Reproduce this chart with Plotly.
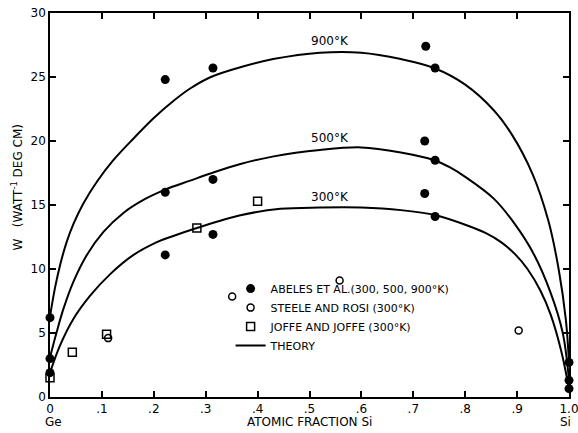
import plotly.graph_objects as go

# ---- data ----
abeles_x = [0, 0, 0, 0.222, 0.222, 0.222, 0.314, 0.314, 0.314,
            0.724, 0.722, 0.722, 0.742, 0.742, 0.742, 1.0, 1.0, 1.0]
abeles_w = [6.2, 3.0, 1.9, 24.8, 16.0, 11.1, 25.7, 17.0, 12.7,
            27.4, 20.0, 15.9, 25.7, 18.5, 14.1, 2.7, 1.3, 0.65]

steele_x = [0.112, 0.351, 0.558, 0.903]
steele_w = [4.6, 7.85, 9.1, 5.2]

joffe_x = [0.0, 0.043, 0.109, 0.283, 0.400]
joffe_w = [1.5, 3.5, 4.9, 13.2, 15.3]

t900_x = [0, 0.01, 0.02, 0.032, 0.045, 0.064, 0.09, 0.122, 0.161, 0.2, 0.24,
          0.27, 0.31, 0.37, 0.43, 0.52, 0.6, 0.676, 0.74, 0.80, 0.855, 0.89,
          0.93, 0.96, 0.98, 0.994, 1.0]
t900_w = [6.3, 8.6, 10.4, 12.1, 13.5, 15.1, 16.8, 18.5, 20.2, 21.8, 23.2,
          24.1, 25.0, 25.8, 26.4, 26.9, 26.9, 26.4, 25.7, 24.4, 22.4, 20.5,
          17.4, 13.8, 10.0, 6.0, 2.7]

t500_x = [0, 0.013, 0.026, 0.045, 0.071, 0.103, 0.142, 0.18, 0.222, 0.27,
          0.312, 0.367, 0.431, 0.52, 0.6, 0.676, 0.74, 0.77, 0.80, 0.855, 0.894,
          0.933, 0.965, 0.988, 1.0]
t500_w = [3.1, 5.1, 6.9, 9.0, 11.1, 12.9, 14.4, 15.4, 16.2, 16.9,
          17.5, 18.2, 18.8, 19.3, 19.5, 19.1, 18.5, 17.95, 17.2, 15.5, 13.6,
          11.1, 8.1, 5.0, 1.3]

t300_x = [0, 0.019, 0.045, 0.077, 0.116, 0.161, 0.206, 0.232, 0.283, 0.367,
          0.444, 0.52, 0.6, 0.676, 0.743, 0.804, 0.84, 0.869, 0.895, 0.92,
          0.945, 0.965, 0.985, 1.0]
t300_w = [1.9, 4.0, 6.1, 7.9, 9.6, 11.1, 12.1, 12.5, 13.2, 14.2,
          14.7, 14.8, 14.8, 14.6, 14.2, 13.4, 12.8, 12.1, 11.2, 10.0,
          8.3, 6.4, 3.6, 0.65]

curve_labels = ["900°K", "500°K", "300°K"]
curve_label_x = [0.54, 0.54, 0.54]
curve_label_w = [27.1, 19.5, 14.9]

x_tickvals = [0, 0.1, 0.2, 0.3, 0.4, 0.5, 0.6, 0.7, 0.8, 0.9, 1.0]
x_ticktext = ["0", ".1", ".2", ".3", ".4", ".5", ".6", ".7", ".8", ".9", "1.0"]
y_tickvals = [0, 5, 10, 15, 20, 25, 30]

FONT = "DejaVu Sans"

fig = go.Figure()

for xs, ws in [(t900_x, t900_w), (t500_x, t500_w), (t300_x, t300_w)]:
    fig.add_trace(go.Scatter(
        x=xs, y=ws, mode="lines",
        line=dict(color="black", width=2, shape="spline", smoothing=1.0),
        name="THEORY", showlegend=False, hoverinfo="skip", cliponaxis=False))

fig.add_trace(go.Scatter(
    x=abeles_x, y=abeles_w, mode="markers", name="ABELES ET AL.(300, 500, 900°K)",
    marker=dict(symbol="circle", size=9, color="black"), cliponaxis=False))
fig.add_trace(go.Scatter(
    x=steele_x, y=steele_w, mode="markers", name="STEELE AND ROSI (300°K)",
    marker=dict(symbol="circle-open", size=7, color="black", line=dict(width=1.5)), cliponaxis=False))
fig.add_trace(go.Scatter(
    x=joffe_x, y=joffe_w, mode="markers", name="JOFFE AND JOFFE (300°K)",
    marker=dict(symbol="square-open", size=8, color="black", line=dict(width=1.5)), cliponaxis=False))
fig.add_trace(go.Scatter(
    x=[None], y=[None], mode="lines", name="THEORY",
    line=dict(color="black", width=2)))

for t, lx, lw in zip(curve_labels, curve_label_x, curve_label_w):
    fig.add_annotation(x=lx, y=lw, text=t, showarrow=False, yanchor="bottom",
                       xanchor="center", font=dict(family=FONT, size=12, color="black"))

bottom_font = dict(family=FONT, size=12, color="black")
fig.add_annotation(x=0.5, y=-0.066, xref="paper", yref="paper", text="ATOMIC FRACTION Si",
                   xanchor="center", yanchor="middle", showarrow=False, font=bottom_font)
fig.add_annotation(x=0.007, y=-0.066, xref="paper", yref="paper", text="Ge",
                   xanchor="center", yanchor="middle", showarrow=False, font=bottom_font)
fig.add_annotation(x=0.993, y=-0.066, xref="paper", yref="paper", text="Si",
                   xanchor="center", yanchor="middle", showarrow=False, font=bottom_font)
fig.add_annotation(x=-0.064, y=0.545, xref="paper", yref="paper",
                   text="W   (WATT<sup>-1</sup> DEG CM)", textangle=-90,
                   xanchor="center", yanchor="middle",
                   showarrow=False, font=dict(family=FONT, size=12, color="black"))

axis_common = dict(showline=True, linecolor="black", linewidth=1.5, mirror="allticks",
                   ticks="inside", ticklen=6, tickwidth=1.5, tickcolor="black",
                   showgrid=False, zeroline=False, automargin=False,
                   ticklabeloverflow="allow",
                   tickfont=dict(family=FONT, size=12, color="black"))

fig.update_layout(
    width=578, height=433,
    margin=dict(l=50, r=9, t=13, b=36, autoexpand=False),
    paper_bgcolor="white", plot_bgcolor="white",
    xaxis=dict(range=[0, 1], tickvals=x_tickvals, ticktext=x_ticktext, **axis_common),
    yaxis=dict(range=[0, 30], tickvals=y_tickvals, **axis_common),
    legend=dict(x=0.348, y=0.32, xanchor="left", yanchor="top", bgcolor="rgba(0,0,0,0)",
                font=dict(family=FONT, size=11, color="black"), tracegroupgap=0,
                itemwidth=30),
    showlegend=True,
)

fig.write_html("out.html", config={"displayModeBar": False},
               post_script="document.body.style.margin='0px';")
